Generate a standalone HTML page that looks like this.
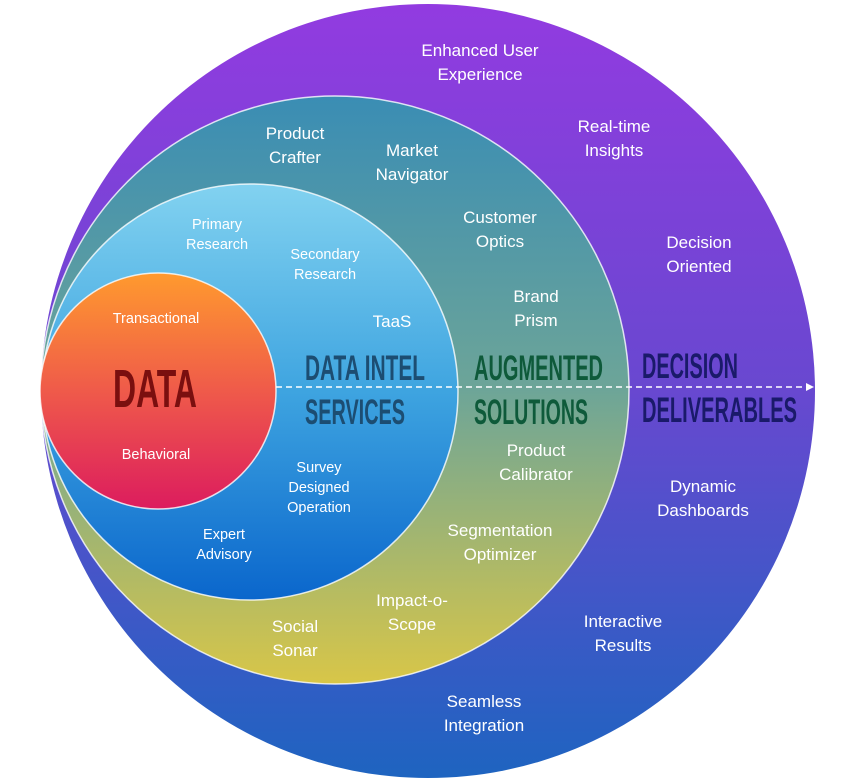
<!DOCTYPE html>
<html><head><meta charset="utf-8"><style>
html,body{margin:0;padding:0;background:#fff;width:853px;height:782px;overflow:hidden}
svg text{font-family:"Liberation Sans",sans-serif;fill:#fff;text-anchor:middle}
.l{font-size:17px}
.s{font-size:14.5px}
.b{font-family:"Liberation Sans",sans-serif;font-weight:bold;font-size:35px;text-anchor:start}
</style></head><body>
<svg width="853" height="782" viewBox="0 0 853 782">
<defs>
<linearGradient id="g1" x1="0" y1="0" x2="0" y2="1"><stop offset="0" stop-color="#923be0"/><stop offset="0.5" stop-color="#6848d0"/><stop offset="1" stop-color="#1e64c0"/></linearGradient>
<linearGradient id="g2" x1="0" y1="0" x2="0" y2="1"><stop offset="0" stop-color="#3a8db4"/><stop offset="0.5" stop-color="#6da598"/><stop offset="1" stop-color="#d8c648"/></linearGradient>
<linearGradient id="g3" x1="0" y1="0" x2="0" y2="1"><stop offset="0" stop-color="#82d2f0"/><stop offset="0.5" stop-color="#3ea4e0"/><stop offset="1" stop-color="#0a66cc"/></linearGradient>
<linearGradient id="g4" x1="0" y1="0" x2="0" y2="1"><stop offset="0" stop-color="#ff9a2e"/><stop offset="0.5" stop-color="#ef5a4a"/><stop offset="1" stop-color="#dc1c5e"/></linearGradient>
</defs>
<circle cx="428" cy="391" r="387" fill="url(#g1)"/>
<circle cx="335" cy="390" r="294" fill="url(#g2)" stroke="#fff" stroke-opacity="0.8" stroke-width="1.5"/>
<circle cx="250" cy="392" r="208" fill="url(#g3)" stroke="#fff" stroke-opacity="0.8" stroke-width="1.5"/>
<circle cx="158" cy="391" r="118" fill="url(#g4)" stroke="#fff" stroke-opacity="0.8" stroke-width="1.5"/>
<line x1="276" y1="387" x2="808" y2="387" stroke="#fff" stroke-width="1.5" stroke-dasharray="6,4"/>
<path d="M806 383 L814 387 L806 391 Z" fill="#fff"/>

<text class="b" x="113" y="407" textLength="84" lengthAdjust="spacingAndGlyphs" style="font-size:54px;fill:#7a0f0f">DATA</text>
<text class="b" x="305" y="380" textLength="120" lengthAdjust="spacingAndGlyphs" style="fill:#1c4d72">DATA INTEL</text>
<text class="b" x="305" y="424" textLength="100" lengthAdjust="spacingAndGlyphs" style="fill:#1c4d72">SERVICES</text>
<text class="b" x="474" y="380" textLength="129" lengthAdjust="spacingAndGlyphs" style="fill:#0e5a3a">AUGMENTED</text>
<text class="b" x="474" y="424" textLength="114" lengthAdjust="spacingAndGlyphs" style="fill:#0e5a3a">SOLUTIONS</text>
<text class="b" x="642" y="378" textLength="96" lengthAdjust="spacingAndGlyphs" style="fill:#1a1a6a">DECISION</text>
<text class="b" x="642" y="422" textLength="155" lengthAdjust="spacingAndGlyphs" style="fill:#1a1a6a">DELIVERABLES</text>

<text class="s" x="156" y="323">Transactional</text>
<text class="s" x="156" y="459">Behavioral</text>
<text class="s" x="217" y="229">Primary</text><text class="s" x="217" y="249">Research</text>
<text class="s" x="325" y="259">Secondary</text><text class="s" x="325" y="279">Research</text>
<text class="l" x="392" y="327">TaaS</text>
<text class="s" x="319" y="472">Survey</text><text class="s" x="319" y="492">Designed</text><text class="s" x="319" y="512">Operation</text>
<text class="s" x="224" y="539">Expert</text><text class="s" x="224" y="559">Advisory</text>

<text class="l" x="295" y="139">Product</text><text class="l" x="295" y="163">Crafter</text>
<text class="l" x="412" y="156">Market</text><text class="l" x="412" y="180">Navigator</text>
<text class="l" x="500" y="223">Customer</text><text class="l" x="500" y="247">Optics</text>
<text class="l" x="536" y="302">Brand</text><text class="l" x="536" y="326">Prism</text>
<text class="l" x="536" y="456">Product</text><text class="l" x="536" y="480">Calibrator</text>
<text class="l" x="500" y="536">Segmentation</text><text class="l" x="500" y="560">Optimizer</text>
<text class="l" x="412" y="606">Impact-o-</text><text class="l" x="412" y="630">Scope</text>
<text class="l" x="295" y="632">Social</text><text class="l" x="295" y="656">Sonar</text>

<text class="l" x="480" y="56">Enhanced User</text><text class="l" x="480" y="80">Experience</text>
<text class="l" x="614" y="132">Real-time</text><text class="l" x="614" y="156">Insights</text>
<text class="l" x="699" y="248">Decision</text><text class="l" x="699" y="272">Oriented</text>
<text class="l" x="703" y="492">Dynamic</text><text class="l" x="703" y="516">Dashboards</text>
<text class="l" x="623" y="627">Interactive</text><text class="l" x="623" y="651">Results</text>
<text class="l" x="484" y="707">Seamless</text><text class="l" x="484" y="731">Integration</text>
</svg>
</body></html>
